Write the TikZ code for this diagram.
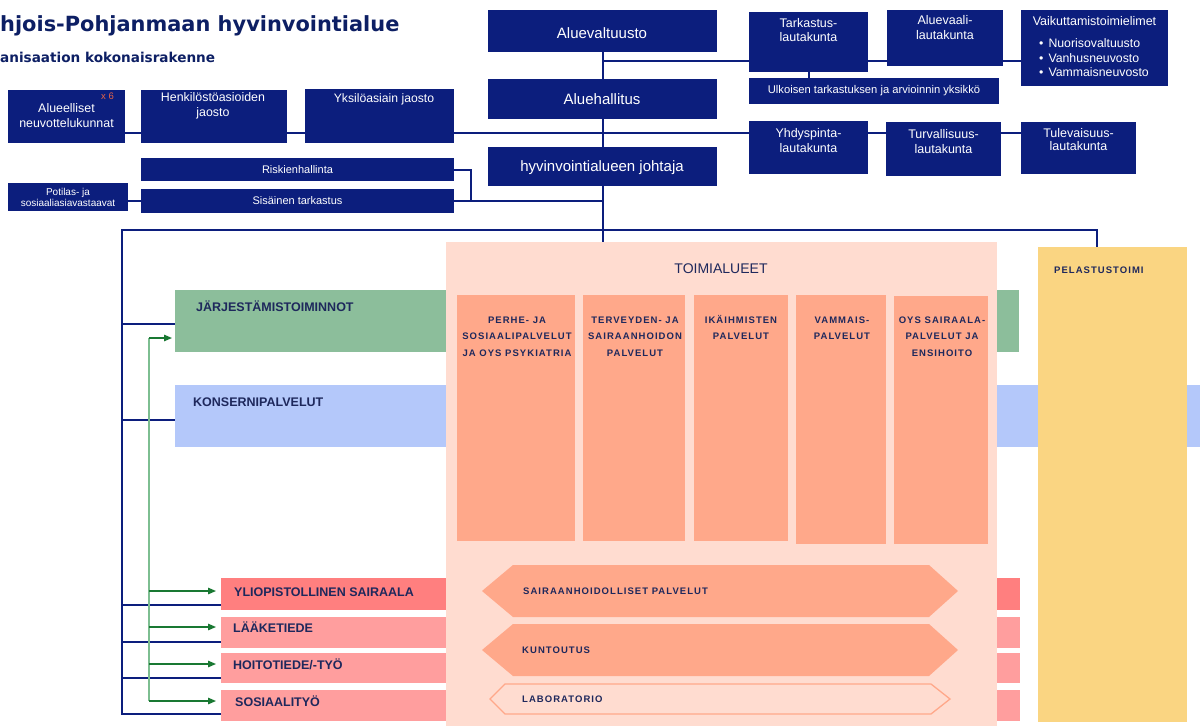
\documentclass[tikz,border=0pt]{standalone}
\usepackage{fontspec}
\setmainfont{Liberation Sans}
\newfontfamily\spaced[LetterSpace=11]{Liberation Sans}
\newfontfamily\titlefont{DejaVu Sans}
\usetikzlibrary{arrows.meta}
\pgfdeclarelayer{bg}
\pgfsetlayers{bg,main}
\definecolor{navy}{RGB}{12,30,125}
\definecolor{txtnavy}{RGB}{30,40,92}
\definecolor{titlenavy}{RGB}{13,31,100}
\definecolor{jgreen}{RGB}{140,190,155}
\definecolor{kblue}{RGB}{180,200,250}
\definecolor{yred}{RGB}{255,127,127}
\definecolor{lpink}{RGB}{255,158,158}
\definecolor{peach}{RGB}{255,220,208}
\definecolor{salmon}{RGB}{255,168,138}
\definecolor{pyellow}{RGB}{250,213,130}
\definecolor{agreen}{RGB}{25,120,50}
\definecolor{lgreen}{RGB}{125,190,145}
\definecolor{coral}{RGB}{232,100,70}
\newcommand\mlc[2]{\parbox[t]{#1}{\centering #2}}
\begin{document}
\begin{tikzpicture}[x=1pt,y=-1pt,
  nbox/.style={fill=navy, inner sep=0pt, anchor=north west},
  fbox/.style={inner sep=0pt, anchor=north west},
  conn/.style={draw=navy, line width=1.8pt},
  gline/.style={draw=lgreen, line width=1.2pt},
  garrow/.style={draw=agreen, line width=1.3pt, -{Triangle[length=8pt,width=6.5pt]}},
  wt/.style={text=white, inner sep=0pt, anchor=base},
  lab/.style={text=txtnavy, inner sep=0pt, anchor=base west, font=\bfseries\fontsize{12.5}{14}\selectfont},
  capt/.style={text=txtnavy, inner sep=0pt, font=\spaced\bfseries\fontsize{9.5}{16.5}\selectfont},
]
\begin{pgfonlayer}{bg}
\fill[white] (0,0) rectangle (1200,726);
\end{pgfonlayer}
\useasboundingbox (0,0) rectangle (1200,726);

% title
\node[anchor=base west, inner sep=0pt, text=titlenavy, font=\titlefont\bfseries\fontsize{20.9}{24}\selectfont] (title) at (0,31) {hjois-Pohjanmaan hyvinvointialue};
\node[anchor=base west, inner sep=0pt, text=titlenavy, font=\titlefont\bfseries\fontsize{13.6}{16}\selectfont] (subtitle) at (0,62.5) {anisaation kokonaisrakenne};

% coloured strips
\node[fbox, fill=jgreen, minimum width=844pt, minimum height=62pt] (jarj) at (175,290) {};
\node[fbox, fill=kblue, minimum width=1025pt, minimum height=62pt] (kons) at (175,385) {};
\node[fbox, fill=yred, minimum width=799pt, minimum height=32pt] (yliop) at (221,578) {};
\node[fbox, fill=lpink, minimum width=799pt, minimum height=31pt] (laak) at (221,617) {};
\node[fbox, fill=lpink, minimum width=799pt, minimum height=30pt] (hoit) at (221,653) {};
\node[fbox, fill=lpink, minimum width=799pt, minimum height=31pt] (sosi) at (221,690) {};

% toimialueet
\node[fbox, fill=peach, minimum width=551pt, minimum height=484pt] (toimi) at (446,242) {};
\node[fbox, fill=salmon, minimum width=118pt, minimum height=246pt] (c1) at (457,295) {};
\node[fbox, fill=salmon, minimum width=102pt, minimum height=246pt] (c2) at (583,295) {};
\node[fbox, fill=salmon, minimum width=94pt, minimum height=246pt] (c3) at (694,295) {};
\node[fbox, fill=salmon, minimum width=90pt, minimum height=249pt] (c4) at (796,295) {};
\node[fbox, fill=salmon, minimum width=94pt, minimum height=248pt] (c5) at (894,296) {};
\node[fbox, fill=pyellow, minimum width=149pt, minimum height=475pt] (pelast) at (1038,247) {};

% process arrows
\fill[salmon] (482,591) -- (513,565) -- (929,565) -- (958,591) -- (929,617) -- (513,617) -- cycle;
\fill[salmon] (482,650) -- (513,624) -- (929,624) -- (958,650) -- (929,676) -- (513,676) -- cycle;
\draw[salmon, line width=1.3pt] (490,699) -- (505,684) -- (931,684) -- (950,699) -- (931,714) -- (505,714) -- cycle;

% labels in coloured areas
\node[lab] (ljarj) at (196,311) {JÄRJESTÄMISTOIMINNOT};
\node[lab] (lkons) at (193,406) {KONSERNIPALVELUT};
\node[lab] (lyliop) at (234,596) {YLIOPISTOLLINEN SAIRAALA};
\node[lab] (llaak) at (233,632) {LÄÄKETIEDE};
\node[lab] (lhoit) at (233,669) {HOITOTIEDE/-TYÖ};
\node[lab] (lsosi) at (235,706) {SOSIAALITYÖ};
\node[text=txtnavy, inner sep=0pt, anchor=base, font=\fontsize{14}{16}\selectfont] (ltoimi) at (721,273) {TOIMIALUEET};
\node[capt, anchor=base west] (lpel) at (1054,273) {PELASTUSTOIMI};
\node[capt, anchor=base west] (lsair) at (523,594.5) {SAIRAANHOIDOLLISET PALVELUT};
\node[capt, anchor=base west] (lkunt) at (522,653) {KUNTOUTUS};
\node[capt, anchor=base west] (llab) at (522,702) {LABORATORIO};
\node[capt, anchor=base] (c1t) at (517,323) {\mlc{130pt}{PERHE- JA\\SOSIAALIPALVELUT\\JA OYS PSYKIATRIA}};
\node[capt, anchor=base] (c2t) at (635,323) {\mlc{120pt}{TERVEYDEN- JA\\SAIRAANHOIDON\\PALVELUT}};
\node[capt, anchor=base] (c3t) at (741,323) {\mlc{110pt}{IKÄIHMISTEN\\PALVELUT}};
\node[capt, anchor=base] (c4t) at (842,323) {\mlc{110pt}{VAMMAIS-\\PALVELUT}};
\node[capt, anchor=base] (c5t) at (942,323) {\mlc{110pt}{OYS SAIRAALA-\\PALVELUT JA\\ENSIHOITO}};

% navy boxes
\node[nbox, minimum width=229pt, minimum height=42pt] (aluev) at (488,10) {};
\node[nbox, minimum width=229pt, minimum height=40pt] (aluehal) at (488,79) {};
\node[nbox, minimum width=229pt, minimum height=39pt] (johtaja) at (488,147) {};
\node[nbox, minimum width=119pt, minimum height=60pt] (tark) at (749,12) {};
\node[nbox, minimum width=116pt, minimum height=56pt] (avaali) at (887,10) {};
\node[nbox, minimum width=147pt, minimum height=76pt] (vaik) at (1021,10) {};
\node[nbox, minimum width=250pt, minimum height=26pt] (ulk) at (749,78) {};
\node[nbox, minimum width=119pt, minimum height=53pt] (yhd) at (749,121) {};
\node[nbox, minimum width=115pt, minimum height=54pt] (turv) at (886,122) {};
\node[nbox, minimum width=115pt, minimum height=52pt] (tule) at (1021,122) {};
\node[nbox, minimum width=117pt, minimum height=53pt] (alue) at (8,90) {};
\node[nbox, minimum width=146pt, minimum height=53pt] (henk) at (141,90) {};
\node[nbox, minimum width=149pt, minimum height=54pt] (yks) at (305,89) {};
\node[nbox, minimum width=313pt, minimum height=23pt] (risk) at (141,158) {};
\node[nbox, minimum width=313pt, minimum height=24pt] (sis) at (141,189) {};
\node[nbox, minimum width=120pt, minimum height=28pt] (pot) at (8,183) {};

% white texts
\node[wt, font=\fontsize{15}{16}\selectfont] (taluev) at (602,38.5) {Aluevaltuusto};
\node[wt, font=\fontsize{15}{16}\selectfont] (taluehal) at (602,104.5) {Aluehallitus};
\node[wt, font=\fontsize{15}{16}\selectfont] (tjoht) at (602,171) {hyvinvointialueen johtaja};
\node[wt, font=\fontsize{12.5}{14}\selectfont] (ttark) at (808.5,27.5) {\mlc{118pt}{Tarkastus-\\lautakunta}};
\node[wt, font=\fontsize{12.5}{15}\selectfont] (tavaali) at (945,24.5) {\mlc{116pt}{Aluevaali-\\lautakunta}};
\node[wt, font=\fontsize{12.5}{14}\selectfont] (tvaik) at (1094.5,25) {Vaikuttamistoimielimet};
\node[wt, anchor=base west, font=\fontsize{12.3}{14.7}\selectfont] (tvlist) at (1039,47.5) {\parbox[t]{125pt}{\raggedright •\hspace{5pt}Nuorisovaltuusto\\•\hspace{5pt}Vanhusneuvosto\\•\hspace{5pt}Vammaisneuvosto}};
\node[wt, font=\fontsize{11.2}{12}\selectfont] (tulk) at (874,93.5) {Ulkoisen tarkastuksen ja arvioinnin yksikkö};
\node[wt, font=\fontsize{12.5}{14.3}\selectfont] (tyhd) at (808.5,137.7) {\mlc{118pt}{Yhdyspinta-\\lautakunta}};
\node[wt, font=\fontsize{12.5}{15}\selectfont] (tturv) at (943.5,138.3) {\mlc{115pt}{Turvallisuus-\\lautakunta}};
\node[wt, font=\fontsize{12.5}{13}\selectfont] (ttule) at (1078.5,137.7) {\mlc{115pt}{Tulevaisuus-\\lautakunta}};
\node[wt, font=\fontsize{12.4}{15.4}\selectfont] (talue) at (66.5,112.3) {\mlc{117pt}{Alueelliset\\neuvottelukunnat}};
\node[anchor=base west, inner sep=0pt, text=coral, font=\fontsize{9.5}{10}\selectfont] (tx6) at (101,99.7) {x 6};
\node[wt, font=\fontsize{12.4}{14.5}\selectfont] (thenk) at (213,101.7) {\mlc{146pt}{Henkilöstöasioiden\\jaosto}};
\node[wt, font=\fontsize{12.2}{14}\selectfont] (tyks) at (384,102.3) {Yksilöasiain jaosto};
\node[wt, font=\fontsize{11}{13}\selectfont] (trisk) at (297.5,173.3) {Riskienhallinta};
\node[wt, font=\fontsize{11}{13}\selectfont] (tsis) at (297.5,204.5) {Sisäinen tarkastus};
\node[wt, font=\fontsize{10}{11}\selectfont] (tpot) at (68,195) {\mlc{120pt}{Potilas- ja\\sosiaaliasiavastaavat}};

% connectors
\begin{pgfonlayer}{bg}
\draw[conn] (aluev.south) -- (johtaja.south |- toimi.north);
\coordinate (j1) at (602,61);
\draw[conn] (j1) -- (j1 -| vaik.west);
\draw[conn] (tark.south) -- (tark.south |- ulk.north);
\coordinate (j2) at (125,133);
\draw[conn] (j2 -| alue.east) -- (j2 -| tule.west);
\coordinate (rj) at (471,201);
\draw[conn] (risk.east) -| (rj);
\draw[conn] (pot.east |- sis.west) -- (sis.west);
\draw[conn] (sis.east) -- (sis.east -| aluev.south);
\coordinate (busL) at (122,230);
\coordinate (busR) at (1097,230);
\coordinate (b1) at (122,324);
\coordinate (b2) at (122,420);
\coordinate (b3) at (122,605);
\coordinate (b4) at (122,642);
\coordinate (b5) at (122,678);
\coordinate (b6) at (122,714);
\draw[conn] (b6 -| sosi.west) -- (b6) -- (busL) -- (busR) -- (busR |- pelast.north);
\draw[conn] (b1) -- (b1 -| jarj.west);
\draw[conn] (b2) -- (b2 -| kons.west);
\draw[conn] (b3) -- (b3 -| yliop.west);
\draw[conn] (b4) -- (b4 -| laak.west);
\draw[conn] (b5) -- (b5 -| hoit.west);
\coordinate (g0) at (149,338);
\coordinate (g1) at (149,591);
\coordinate (g2) at (149,627);
\coordinate (g3) at (149,664);
\coordinate (g4) at (149,701);
\draw[gline] (g0) -- (g4);
\draw[garrow, shorten >=3pt] (g0) -- (g0 -| jarj.west);
\draw[garrow, shorten >=5pt] (g1) -- (g1 -| yliop.west);
\draw[garrow, shorten >=5pt] (g2) -- (g2 -| laak.west);
\draw[garrow, shorten >=5pt] (g3) -- (g3 -| hoit.west);
\draw[garrow, shorten >=5pt] (g4) -- (g4 -| sosi.west);
\end{pgfonlayer}
\end{tikzpicture}
\end{document}
